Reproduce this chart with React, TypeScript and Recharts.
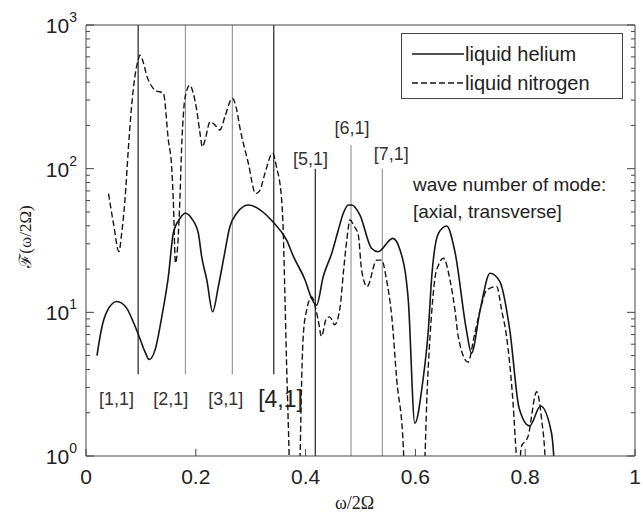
import React from "react";
import {
  Legend,
  Line,
  LineChart,
  ReferenceDot,
  ReferenceLine,
  XAxis,
  YAxis,
} from "recharts";

// spectrum: frequency (omega / 2 Omega) and amplitude
const heliumFreq = [
  0.02, 0.029, 0.038, 0.056, 0.074, 0.086, 0.098, 0.1075, 0.115, 0.126, 0.138, 0.15, 0.159,
  0.171, 0.181, 0.1925, 0.2046, 0.2107, 0.22, 0.2307, 0.241, 0.2514, 0.262, 0.2745, 0.2957,
  0.317, 0.342, 0.3655, 0.378, 0.399, 0.411, 0.42, 0.432, 0.4475, 0.4596, 0.4687, 0.478,
  0.484, 0.499, 0.52, 0.532, 0.5587, 0.572, 0.587, 0.599, 0.613, 0.6235, 0.63, 0.642, 0.657,
  0.672, 0.693, 0.702, 0.718, 0.736, 0.754, 0.772, 0.789, 0.808, 0.828, 0.848, 0.852, 0.856,
];
const heliumAmp = [
  5.0, 7.9, 10.1, 11.9, 10.7, 8.6, 6.6, 5.3, 4.7, 5.5, 9.3, 17.7, 35.5,
  45, 48.9, 45, 35.5, 24.4, 16.8, 10.1, 15.1, 24.4, 39.4, 48.9, 55.8,
  51.7, 42, 31.8, 24.4, 16.8, 12.5, 11.2, 17.7, 25.7, 37.4, 48.9, 55.8,
  55.8, 47.5, 27.9, 26.4, 32.7, 27.2, 12.2, 1.69, 3.2, 7.5, 18.2, 35.5, 39.9,
  26.4, 7.5, 5.2, 10.4, 18.7, 16.3, 7.5, 2.15, 1.62, 2.23, 1.44, 1.0, 0.5,
];

const nitrogenFreq = [
  0.041, 0.05, 0.06, 0.065, 0.071, 0.077, 0.083, 0.089, 0.095, 0.098, 0.1135, 0.1257, 0.141,
  0.15, 0.156, 0.159, 0.163, 0.171, 0.174, 0.178, 0.183, 0.189, 0.1955, 0.2016, 0.2077, 0.212,
  0.2168, 0.226, 0.235, 0.244, 0.253, 0.2665, 0.2745, 0.28, 0.2957, 0.309, 0.317, 0.326, 0.34,
  0.347, 0.3564, 0.3594, 0.3625, 0.3655, 0.37, 0.373, 0.387, 0.39, 0.393, 0.396, 0.402, 0.411,
  0.423, 0.429, 0.438, 0.444, 0.453, 0.463, 0.4687, 0.475, 0.481, 0.488, 0.496, 0.502, 0.512,
  0.5295, 0.5385, 0.5475, 0.557, 0.566, 0.578, 0.582, 0.612, 0.6175, 0.6205, 0.627, 0.63, 0.636,
  0.642, 0.651, 0.663, 0.672, 0.678, 0.696, 0.707, 0.718, 0.73, 0.748, 0.757, 0.766, 0.778,
  0.784, 0.788, 0.793, 0.805, 0.821, 0.83, 0.836, 0.84,
];
const nitrogenAmp = [
  67, 41.6, 26.5, 35.5, 60.6, 135, 270, 436, 570, 617, 414, 352, 334,
  158, 103, 60.6, 22, 60.6, 135, 257, 344, 381, 334, 257, 176, 142,
  158, 212, 201, 186, 230, 309, 257, 196, 109, 67, 71, 93, 128,
  103, 60.6, 35.5, 12.2, 4.2, 1.0, 0.3, 0.3, 1.0, 3.6, 7.1, 10.4, 12.8,
  8.8, 6.8, 9.1, 9.3, 8.2, 11, 18.7, 31.8, 43.9, 40, 34.5, 19.7, 15.1,
  23.1, 23.1, 16.8, 9.3, 3.4, 1.16, 0.4, 0.4, 1.0, 2.3, 7.1, 10.4, 17.7,
  21.3, 23.8, 16.8, 10.4, 6.8, 4.5, 6.8, 10.4, 14.3, 15.1, 10.4, 6.8, 2.3,
  1.0, 0.7, 1.16, 1.36, 2.8, 1.78, 1.0, 0.4,
];

// mode markers [axial, transverse]
const modeNames = ["[1,1]", "[2,1]", "[3,1]", "[4,1]", "[5,1]", "[6,1]", "[7,1]"];
const modeFreq = [0.095, 0.181, 0.2665, 0.342, 0.4177, 0.4827, 0.5397];
const modeTop = [1000, 1000, 1000, 1000, 100, 146, 100];
const modeBottom = [3.7, 3.7, 3.7, 3.7, 1, 1, 1];
const modeLabelFreq = [0.0556, 0.1545, 0.2547, 0.3543, 0.409, 0.4845, 0.556];
const modeLabelAmp = [2.51, 2.51, 2.51, 2.5, 117, 193, 126];

const seriesNames = ["liquid helium", "liquid nitrogen"];
const xTicks = [0, 0.2, 0.4, 0.6, 0.8, 1];
const yTicks = [
  1, 2, 3, 4, 5, 6, 7, 8, 9, 10, 20, 30, 40, 50, 60, 70, 80, 90,
  100, 200, 300, 400, 500, 600, 700, 800, 900, 1000,
];

const heliumData = heliumFreq.map((x, i) => ({ x, y: heliumAmp[i] }));
const nitrogenData = nitrogenFreq.map((x, i) => ({ x, y: nitrogenAmp[i] }));

const AXIS = "#444";
const INK = "#161616";
const SANS = "'Liberation Sans', Arial, sans-serif";
const SERIF = "'Liberation Serif', 'DejaVu Serif', serif";
const DASH = "6 3";

function YTick(props: any) {
  const { x, y, payload, side } = props;
  const lg = Math.log10(payload.value);
  const exp = Math.round(lg);
  const major = Math.abs(lg - exp) < 1e-6;
  const len = major ? 8 : 4;
  const dir = side === "left" ? 1 : -1;
  return (
    <g>
      <line x1={x} x2={x + dir * len} y1={y} y2={y} stroke={AXIS} />
      {major && side === "left" && (
        <text x={x - 9} y={y + 8} textAnchor="end" fontSize={21} fontFamily={SANS} fill="#222">
          10
          <tspan dy={-11} fontSize={14}>
            {exp}
          </tspan>
        </text>
      )}
    </g>
  );
}

function XTick(props: any) {
  const { x, y, payload, side } = props;
  const dir = side === "bottom" ? -1 : 1;
  return (
    <g>
      <line x1={x} x2={x} y1={y} y2={y + dir * 7} stroke={AXIS} />
      {side === "bottom" && (
        <text x={x} y={y + 28} textAnchor="middle" fontSize={21} fontFamily={SANS} fill="#222">
          {String(payload.value)}
        </text>
      )}
    </g>
  );
}

function LegendBox() {
  const dashes = [undefined, DASH];
  return (
    <div
      style={{
        width: 220,
        height: 64,
        border: `1px solid ${AXIS}`,
        background: "#fff",
        fontFamily: SANS,
        fontSize: 20,
        color: "#222",
        boxSizing: "content-box",
      }}
    >
      {seriesNames.map((n, i) => (
        <div
          key={n}
          style={{ display: "flex", alignItems: "center", height: 29, marginTop: i === 0 ? 5 : 0 }}
        >
          <svg width={63} height={10} style={{ display: "block" }}>
            <line x1={10} x2={62} y1={5} y2={5} stroke={INK} strokeWidth={1.4} strokeDasharray={dashes[i]} />
          </svg>
          <span style={{ lineHeight: "20px" }}>{n}</span>
        </div>
      ))}
    </div>
  );
}

function textLabel(text: string, size: number, anchor: "middle" | "start", color = "#222") {
  return {
    content: (p: any) => {
      const vb = p.viewBox || {};
      const cx = anchor === "middle" ? vb.x + vb.width / 2 : vb.x;
      const cy = vb.y + vb.height / 2;
      return (
        <text
          x={cx}
          y={cy}
          textAnchor={anchor}
          dominantBaseline="central"
          fontSize={size}
          fontFamily={SANS}
          fill={color}
        >
          {text}
        </text>
      );
    },
  };
}

export default function App() {
  return (
    <div style={{ position: "absolute", left: 0, top: 0, background: "#fff" }}>
      <LineChart width={643} height={514} margin={{ top: 24, right: 0, bottom: 18, left: 26 }}>
        <XAxis
          xAxisId={0}
          dataKey="x"
          type="number"
          domain={[0, 1]}
          ticks={xTicks}
          interval={0}
          tickSize={0}
          tickMargin={0}
          tickLine={false}
          height={40}
          stroke={AXIS}
          allowDataOverflow
          tick={<XTick side="bottom" />}
          label={{
            content: (p: any) => {
              const vb = p.viewBox;
              return (
                <text
                  x={vb.x + vb.width / 2 - 6}
                  y={vb.y + 47}
                  textAnchor="middle"
                  dominantBaseline="central"
                  fontSize={18}
                  fontFamily={SERIF}
                  fill="#222"
                >
                  ω/2Ω
                </text>
              );
            },
          }}
        />
        <XAxis
          xAxisId="top"
          orientation="top"
          type="number"
          domain={[0, 1]}
          ticks={xTicks}
          interval={0}
          tickSize={0}
          tickMargin={0}
          tickLine={false}
          height={1}
          stroke={AXIS}
          tick={<XTick side="top" />}
        />
        <YAxis
          yAxisId="left"
          type="number"
          scale="log"
          domain={[1, 1000]}
          ticks={yTicks}
          interval={0}
          allowDataOverflow
          tickSize={0}
          tickMargin={0}
          tickLine={false}
          width={60}
          stroke={AXIS}
          tick={<YTick side="left" />}
          label={{
            content: (p: any) => {
              const vb = p.viewBox;
              const cx = vb.x - 1;
              const cy = vb.y + vb.height / 2 - 4;
              return (
                <text
                  x={cx}
                  y={cy}
                  transform={`rotate(-90, ${cx}, ${cy})`}
                  textAnchor="middle"
                  dominantBaseline="central"
                  fontSize={17}
                  fontFamily={SERIF}
                  fill="#222"
                >
                  ℱ(ω/2Ω)
                </text>
              );
            },
          }}
        />
        <YAxis
          yAxisId="right"
          orientation="right"
          type="number"
          scale="log"
          domain={[1, 1000]}
          ticks={yTicks}
          interval={0}
          allowDataOverflow
          tickSize={0}
          tickMargin={0}
          tickLine={false}
          width={8}
          stroke={AXIS}
          tick={<YTick side="right" />}
        />

        {modeNames.map((m, i) => (
          <ReferenceLine
            key={m}
            yAxisId="left"
            segment={[
              { x: modeFreq[i], y: modeTop[i] },
              { x: modeFreq[i], y: modeBottom[i] },
            ]}
            stroke={i === 0 || i === 3 || i === 4 ? "#333" : "#777"}
            strokeWidth={i === 0 || i === 3 || i === 4 ? 1.3 : 0.9}
            ifOverflow="visible"
          />
        ))}

        <Line
          data={heliumData}
          yAxisId="left"
          dataKey="y"
          name={seriesNames[0]}
          type="monotone"
          stroke={INK}
          strokeWidth={1.6}
          dot={false}
          isAnimationActive={false}
        />
        <Line
          data={nitrogenData}
          yAxisId="left"
          dataKey="y"
          name={seriesNames[1]}
          type="monotone"
          stroke={INK}
          strokeWidth={1.4}
          strokeDasharray={DASH}
          dot={false}
          isAnimationActive={false}
        />

        {modeNames.map((m, i) => (
          <ReferenceDot
            key={"lbl" + m}
            yAxisId="left"
            x={modeLabelFreq[i]}
            y={modeLabelAmp[i]}
            r={0}
            fill="none"
            stroke="none"
            ifOverflow="visible"
            label={textLabel(m, i === 3 ? 23 : 18, "middle", i === 3 ? "#222" : "#333")}
          />
        ))}
        <ReferenceDot
          yAxisId="left"
          x={0.5956}
          y={77}
          r={0}
          fill="none"
          stroke="none"
          ifOverflow="visible"
          label={textLabel("wave number of mode:", 19, "start")}
        />
        <ReferenceDot
          yAxisId="left"
          x={0.5956}
          y={50.7}
          r={0}
          fill="none"
          stroke="none"
          ifOverflow="visible"
          label={textLabel("[axial, transverse]", 19, "start")}
        />

        <Legend
          layout="horizontal"
          align="center"
          verticalAlign="middle"
          wrapperStyle={{ left: 401, top: 33, width: 222, height: 66 }}
          content={() => <LegendBox />}
        />
      </LineChart>
    </div>
  );
}
